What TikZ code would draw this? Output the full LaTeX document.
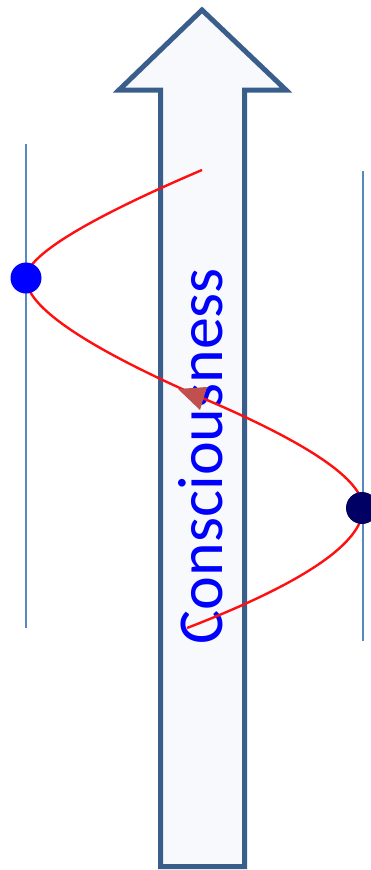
\documentclass[tikz,border=0pt]{standalone}
\usepackage{fontspec}
\setmainfont{Carlito}
\definecolor{arrowedge}{RGB}{58,94,140}
\definecolor{arrowfill}{RGB}{247,249,252}
\definecolor{guide}{RGB}{91,135,192}
\definecolor{wave}{RGB}{255,16,16}
\definecolor{tipred}{RGB}{192,80,77}
\definecolor{dotnavy}{RGB}{0,0,100}
\tikzset{
  bigarrow/.style={draw=arrowedge, fill=arrowfill, line width=5pt, line join=miter},
  guideline/.style={draw=guide, line width=1.8pt},
  wavecurve/.style={draw=wave, line width=2.4pt},
  dotnode/.style={circle, inner sep=0pt, minimum size=31pt},
  label/.style={text=blue, font=\fontsize{64}{70}\selectfont, rotate=90, anchor=base, inner sep=0pt}
}
\begin{document}
\begin{tikzpicture}[x=1pt,y=-1pt]
\useasboundingbox (0,0) rectangle (370,870);
% guide lines
\coordinate (gl1) at (26,144);
\coordinate (gl2) at (26,628);
\coordinate (gr1) at (363,171);
\coordinate (gr2) at (363,641);
\draw[guideline] (gl1) -- (gl2);
\draw[guideline] (gr1) -- (gr2);
% big arrow
\path[bigarrow] (202,10) -- (286,90) -- (244.5,90) -- (244.5,866.5) -- (160.5,866.5) -- (160.5,90) -- (119,90) -- cycle;
% label
\node[label] (txt) at (222,456) {Consciousness};
% curve
\coordinate (T) at (202,170);
\coordinate (L) at (26,278);
\coordinate (M) at (200,397);
\coordinate (R) at (363,508);
\coordinate (B) at (187,628);
\draw[wavecurve] (T) .. controls (85,220) and (26,256.5) .. (L)
  .. controls (26,306.3) and (84,345.9) .. (M)
  .. controls (308.7,443) and (363,480) .. (R)
  .. controls (363,542.7) and (304.3,582.7) .. (B);
% small arrowhead on the curve
\fill[tipred] (178,389) -- (207,387) -- (200,410) -- cycle;
% dots
\node[dotnode, fill=blue] (dl) at (L) {};
\node[dotnode, fill=dotnavy, minimum size=32pt] (dr) at (362,508) {};
\end{tikzpicture}
\end{document}
